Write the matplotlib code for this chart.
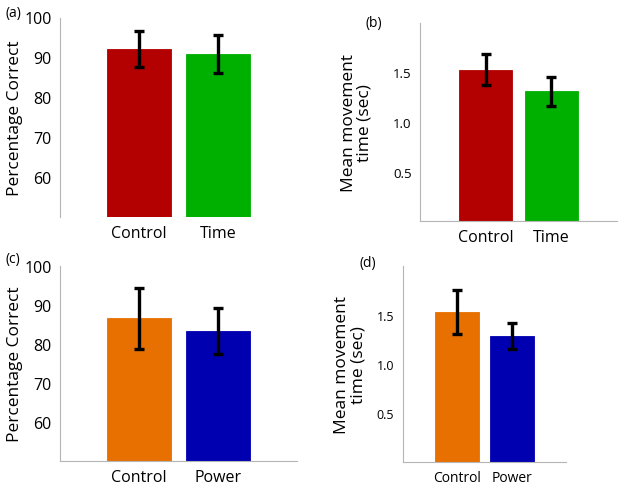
import matplotlib
matplotlib.use('Agg')
import matplotlib.pyplot as plt
import numpy as np

plt.rcParams['font.family'] = ['Open Sans', 'DejaVu Sans']

# panel (a): accuracy, control vs time
labels_a = ['Control', 'Time']
mean_a = [92.0, 90.8]
err_a = [4.5, 4.8]

# panel (b): movement time, control vs time
labels_b = ['Control', 'Time']
mean_b = [1.53, 1.31]
err_b = [0.155, 0.145]

# panel (c): accuracy, control vs power
labels_c = ['Control', 'Power']
mean_c = [86.6, 83.2]
err_c = [7.8, 5.9]

# panel (d): movement time, control vs power
labels_d = ['Control', 'Power']
mean_d = [1.53, 1.28]
err_d = [0.225, 0.135]

red = '#b30000'
green = '#00b000'
orange = '#e87000'
blue = '#0000b0'
spine_col = '#b5b5b5'

W, H = 624, 489
fig = plt.figure(figsize=(W / 100., H / 100.), dpi=100)


def px_axes(left, right, top, bottom):
    return fig.add_axes([left / W, (H - bottom) / H, (right - left) / W, (bottom - top) / H])


def bar_panel(ax, labels, means, errs, colors, ylim, yticks, ylabel, tick_fs, xlab_fs,
              label_x, show_bottom=True):
    x = np.arange(1, len(labels) + 1)
    ax.bar(x, means, width=0.81, color=colors, edgecolor=colors, linewidth=0.6)
    ax.errorbar(x, means, yerr=errs, fmt='none', ecolor='black', elinewidth=2.4,
                capsize=3.5, capthick=2.4)
    ax.set_xlim(0, 3)
    ax.set_ylim(*ylim)
    ax.set_xticks(x)
    ax.set_xticklabels(labels, fontsize=xlab_fs)
    ax.set_yticks(yticks)
    ax.set_yticklabels(['%g' % t if t >= 10 else '%.1f' % t for t in yticks], fontsize=tick_fs)
    ax.tick_params(length=0, pad=6)
    ax.set_ylabel(ylabel, fontsize=12.5, linespacing=1.0, va='center', ha='center')
    ax.yaxis.set_label_coords(label_x, 0.5)
    for s in ['top', 'right']:
        ax.spines[s].set_visible(False)
    ax.spines['left'].set_color(spine_col)
    ax.spines['bottom'].set_color(spine_col)
    ax.spines['bottom'].set_visible(show_bottom)


ax_a = px_axes(60, 297, 18.5, 218)
bar_panel(ax_a, labels_a, mean_a, err_a, [red, green], (50, 100), [60, 70, 80, 90, 100],
          'Percentage Correct', 11.5, 11.5, -0.19, show_bottom=False)

ax_b = px_axes(420, 617, 24, 222)
bar_panel(ax_b, labels_b, mean_b, err_b, [red, green], (0, 2.0), [0.5, 1.0, 1.5],
          'Mean movement\ntime (sec)', 9.5, 11.5, -0.32)

ax_c = px_axes(60, 297, 266.7, 462)
bar_panel(ax_c, labels_c, mean_c, err_c, [orange, blue], (50, 100), [60, 70, 80, 90, 100],
          'Percentage Correct', 11.5, 11.5, -0.19)

ax_d = px_axes(402.7, 566, 266.7, 462.5)
bar_panel(ax_d, labels_d, mean_d, err_d, [orange, blue], (0, 2.0), [0.5, 1.0, 1.5],
          'Mean movement\ntime (sec)', 9, 10, -0.32)

for lab, xp, yp in [('(a)', 5, 14), ('(b)', 365, 23), ('(c)', 5, 260), ('(d)', 359, 263)]:
    fig.text(xp / W, 1 - yp / H, lab, fontsize=10, va='center', ha='left')

fig.savefig('out.png', dpi=100)
